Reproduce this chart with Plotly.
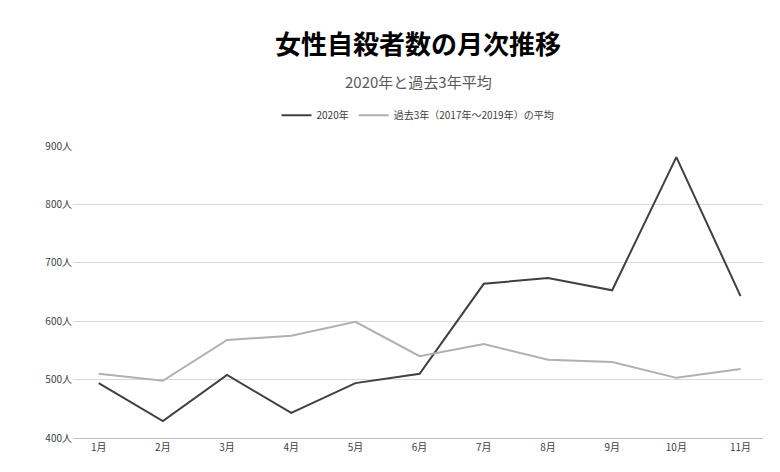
import plotly.graph_objects as go

months = ["1月","2月","3月","4月","5月","6月","7月","8月","9月","10月","11月"]
y2020 = [494, 429, 508, 443, 494, 510, 664, 674, 653, 881, 643]
yavg = [510, 498, 568, 575, 599, 540, 561, 534, 530, 503, 518]
tickvals = [400, 500, 600, 700, 800, 900]
ticktext = [f"{v}人" for v in tickvals]

fig = go.Figure()
fig.add_trace(go.Scatter(x=months, y=y2020, mode="lines", name="2020年",
                         line=dict(color="#404040", width=2)))
fig.add_trace(go.Scatter(x=months, y=yavg, mode="lines", name="過去3年（2017年～2019年）の平均",
                         line=dict(color="#b0b0b0", width=2)))
fig.update_layout(
    width=780, height=472, plot_bgcolor="white", paper_bgcolor="white",
    margin=dict(l=65, r=25, t=138, b=42),
    font=dict(family="Noto Sans CJK JP", color="#404040"),
    legend=dict(orientation="h", x=0.5, xanchor="center", y=1.105, yanchor="middle",
                font=dict(size=10, color="#404040")),
    showlegend=True,
    annotations=[
        dict(text="<b>女性自殺者数の月次推移</b>", xref="paper", yref="paper", x=0.5, y=1.355,
             xanchor="center", yanchor="middle", showarrow=False, font=dict(size=26, color="#000")),
        dict(text="2020年と過去3年平均", xref="paper", yref="paper", x=0.5, y=1.22,
             xanchor="center", yanchor="middle", showarrow=False, font=dict(size=15, color="#595959")),
    ],
)
fig.update_xaxes(showgrid=False, showline=True, linecolor="#bfbfbf", ticks="",
                 tickfont=dict(size=10), range=[-0.4, 10.35])
fig.update_yaxes(range=[400, 900], tickvals=tickvals, ticktext=ticktext,
                 gridcolor="#d9d9d9", zeroline=False, tickfont=dict(size=10))
fig.write_html("out.html")
